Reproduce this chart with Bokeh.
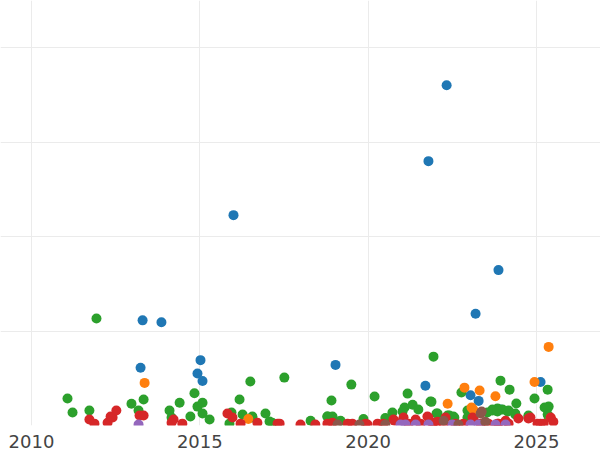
from bokeh.plotting import figure
from bokeh.models import Range1d, FixedTicker
from bokeh.embed import file_html
from bokeh.resources import INLINE

# ---- data (year, value) per series ----
blue_x = [2022.33, 2021.79, 2016.00, 2023.87, 2023.19, 2013.30, 2013.86, 2019.03, 2013.24,
          2015.02, 2014.93, 2015.08, 2021.70, 2025.12, 2023.04, 2023.28, 2023.93]
blue_y = [360, 280, 223, 165, 119, 112, 110, 65, 62, 70, 56, 48, 43, 47, 33, 27, 18]

green_x = [2011.93, 2011.07, 2011.22, 2011.72, 2012.97, 2013.33, 2013.18, 2014.10, 2014.16, 2014.40,
           2014.72, 2014.84, 2014.93, 2015.08, 2015.08, 2015.29, 2015.94, 2016.18, 2016.27, 2016.50,
           2016.56, 2016.95, 2017.07, 2017.51, 2015.88, 2017.15, 2018.91, 2019.50, 2020.19, 2021.17,
           2021.32, 2021.08, 2021.85, 2021.94, 2022.03, 2021.49, 2020.72, 2020.51, 2022.77, 2022.95,
           2023.93, 2024.20, 2024.40, 2024.94, 2025.33, 2025.36, 2025.24, 2025.36, 2018.79, 2018.94,
           2019.18, 2018.29, 2019.86, 2021.02, 2022.36, 2022.53, 2023.69, 2023.84, 2024.14, 2024.37,
           2024.76, 2025.33, 2023.78, 2023.99, 2024.17, 2024.37, 2024.76, 2021.88, 2022.06, 2022.41,
           2022.56, 2022.95, 2023.54, 2023.69, 2023.84, 2016.56, 2018.79, 2018.94]
green_y = [114, 29.5, 14.7, 16.8, 24, 28.4, 16.8, 16.8, 9.5, 25,
           10.5, 35, 21, 25, 13.7, 7.4, 14.7, 28.4, 12.6, 47.4,
           9.5, 13.7, 5.3, 51.6, 3, 4, 27.4, 44.2, 31.6, 34.7,
           23, 20, 26.3, 73.7, 13.7, 17.9, 14.7, 9, 35.8, 16.8,
           48.4, 38.9, 24.2, 29.5, 38.9, 21, 20, 10.5, 10.5, 9.5,
           6, 6, 8, 15.8, 11.6, 10.5, 17.9, 19, 15.8, 13.7,
           9.5, 12.6, 16.8, 17.9, 16.8, 12.6, 11.6, 26, 13.7, 11.6,
           9.5, 9.5, 14.7, 16.8, 15.8, 10.5, 10.5, 10.5]

orange_x = [2025.36, 2013.36, 2024.94, 2022.86, 2023.31, 2023.78, 2022.36, 2023.07, 2023.12,
            2016.44, 2025.42]
orange_y = [84, 46, 47, 41, 38, 32, 24, 20, 18, 8, 9]

red_x = [2011.72, 2011.87, 2012.26, 2012.35, 2012.41, 2012.52, 2013.21, 2013.33, 2014.22, 2014.16,
         2014.48, 2015.82, 2015.97, 2016.21, 2016.71, 2017.31, 2017.37, 2017.99, 2018.43, 2018.79,
         2018.94, 2019.39, 2019.53, 2019.92, 2019.98, 2020.28, 2020.45, 2020.75, 2020.78, 2021.05,
         2021.20, 2021.41, 2021.55, 2021.76, 2021.79, 2021.91, 2021.94, 2022.06, 2022.24, 2022.30,
         2022.59, 2022.83, 2023.10, 2023.13, 2023.34, 2023.57, 2023.84, 2023.87, 2024.08, 2024.17,
         2024.46, 2024.76, 2024.82, 2025.03, 2025.12, 2025.21, 2025.42, 2025.50]
red_y = [7.4, 3, 4, 10.5, 9.5, 16.8, 11.6, 11.6, 7.4, 4,
         3, 13.7, 9.5, 3, 4, 3, 3, 2, 2, 3,
         4, 3, 3, 3, 2, 3, 3, 7.4, 6, 9.5,
         3, 7.4, 3, 10.5, 9.5, 3, 4, 5, 3, 9.5,
         3, 3, 9.5, 8.4, 3, 3, 3, 3, 6, 3,
         8.4, 8.4, 9.5, 3, 3, 3, 9.5, 5]

purple_x = [2013.18, 2020.96, 2021.11, 2021.41, 2021.79, 2022.50, 2023.04, 2023.28, 2023.78, 2024.08]
purple_y = [2, 2, 2, 2, 2, 2, 2, 2, 2, 2]

brown_x = [2019.09, 2019.74, 2020.51, 2022.24, 2022.68, 2023.34, 2023.37, 2023.48]
brown_y = [2, 2, 2, 6, 2, 13.7, 15.8, 5]

x_ticks = [2010, 2015, 2020, 2025]
y_grid = [100, 200, 300, 400]

p = figure(width=600, height=450, output_backend="svg", toolbar_location=None,
           x_range=Range1d(2009.08, 2026.9), y_range=Range1d(1.05, 449.5),
           min_border=0, min_border_left=0, min_border_right=0, min_border_top=0,
           min_border_bottom=0,
           styles={"position": "absolute", "top": "0px", "left": "0px"})
p.outline_line_color = None
p.background_fill_color = "white"
p.border_fill_color = "white"

p.yaxis.visible = False
p.xaxis.ticker = FixedTicker(ticks=x_ticks)
p.xaxis.axis_line_color = None
p.xaxis.major_tick_line_color = None
p.xaxis.minor_tick_line_color = None
p.xaxis.major_tick_out = 0
p.xaxis.major_tick_in = 0
p.xaxis.major_label_text_font = "DejaVu Sans"
p.xaxis.major_label_text_font_size = "18px"
p.xaxis.major_label_text_color = "#444444"
p.xaxis.major_label_standoff = 9

p.xgrid.ticker = FixedTicker(ticks=x_ticks)
p.ygrid.ticker = FixedTicker(ticks=y_grid)
p.xgrid.grid_line_color = "#ebebeb"
p.ygrid.grid_line_color = "#ebebeb"

series = [
    (blue_x, blue_y, "#1f77b4"),
    (green_x, green_y, "#2ca02c"),
    (orange_x, orange_y, "#ff7f0e"),
    (red_x, red_y, "#d62728"),
    (purple_x, purple_y, "#9467bd"),
    (brown_x, brown_y, "#8c564b"),
]
for xs, ys, c in series:
    p.scatter(xs, ys, size=10, fill_color=c, line_color=None)

open("out.html", "w").write(file_html(p, INLINE))
